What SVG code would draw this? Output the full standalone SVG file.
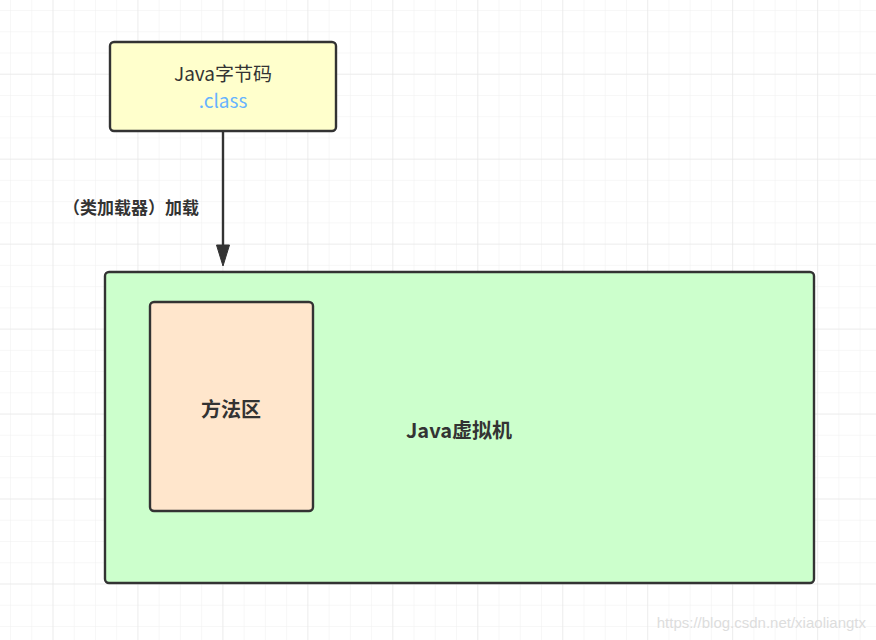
<svg xmlns="http://www.w3.org/2000/svg" width="876" height="640" viewBox="0 0 876 640">
<defs>
<pattern id="minor" x="10" y="10" width="21.24" height="21.24" patternUnits="userSpaceOnUse">
<path d="M0 0H21.24M0 0V21.24" fill="none" stroke="#efefef" stroke-width="1"/>
</pattern>
<pattern id="major" x="52.48" y="73.72" width="84.96" height="84.96" patternUnits="userSpaceOnUse">
<path d="M0 0H84.96M0 0V84.96" fill="none" stroke="#e3e3e3" stroke-width="1"/>
</pattern>
</defs>
<style>
.box{stroke:#333333;stroke-width:2.4}
.t{font-family:"Noto Sans CJK SC","Noto Sans",sans-serif;fill:#333333;text-anchor:middle}
.b{font-weight:bold}
</style>
<rect width="876" height="640" fill="#ffffff"/>
<rect width="876" height="640" fill="url(#minor)"/>
<rect width="876" height="640" fill="url(#major)"/>
<g id="connectors">
<line x1="223" y1="132" x2="223" y2="246" stroke="#333333" stroke-width="2.4"/>
<path d="M216.5 245L223 266L229.5 245Z" fill="#333333" stroke="#333333" stroke-width="1"/>
<text class="t b" x="131" y="214" font-size="17">（类加载器）加载</text>
</g>
<g id="bytecode">
<rect class="box" x="110" y="42" width="226" height="89" rx="4" fill="#ffffcc"/>
<text class="t" x="223" y="81" font-size="19">Java字节码</text>
<text class="t" x="223" y="108" font-size="19" style="fill:#66b2ff">.class</text>
</g>
<g id="jvm">
<rect class="box" x="105" y="272" width="709" height="311" rx="4" fill="#ccffcc"/>
<text class="t b" x="459" y="438" font-size="20">Java虚拟机</text>
</g>
<g id="method-area">
<rect class="box" x="150" y="302" width="163" height="209" rx="4" fill="#ffe6cc"/>
<text class="t b" x="231" y="417" font-size="20">方法区</text>
</g>
<text x="866" y="628" font-family="'Liberation Sans',sans-serif" font-size="15" fill="#dddddd" text-anchor="end">https://blog.csdn.net/xiaoliangtx</text>
</svg>
